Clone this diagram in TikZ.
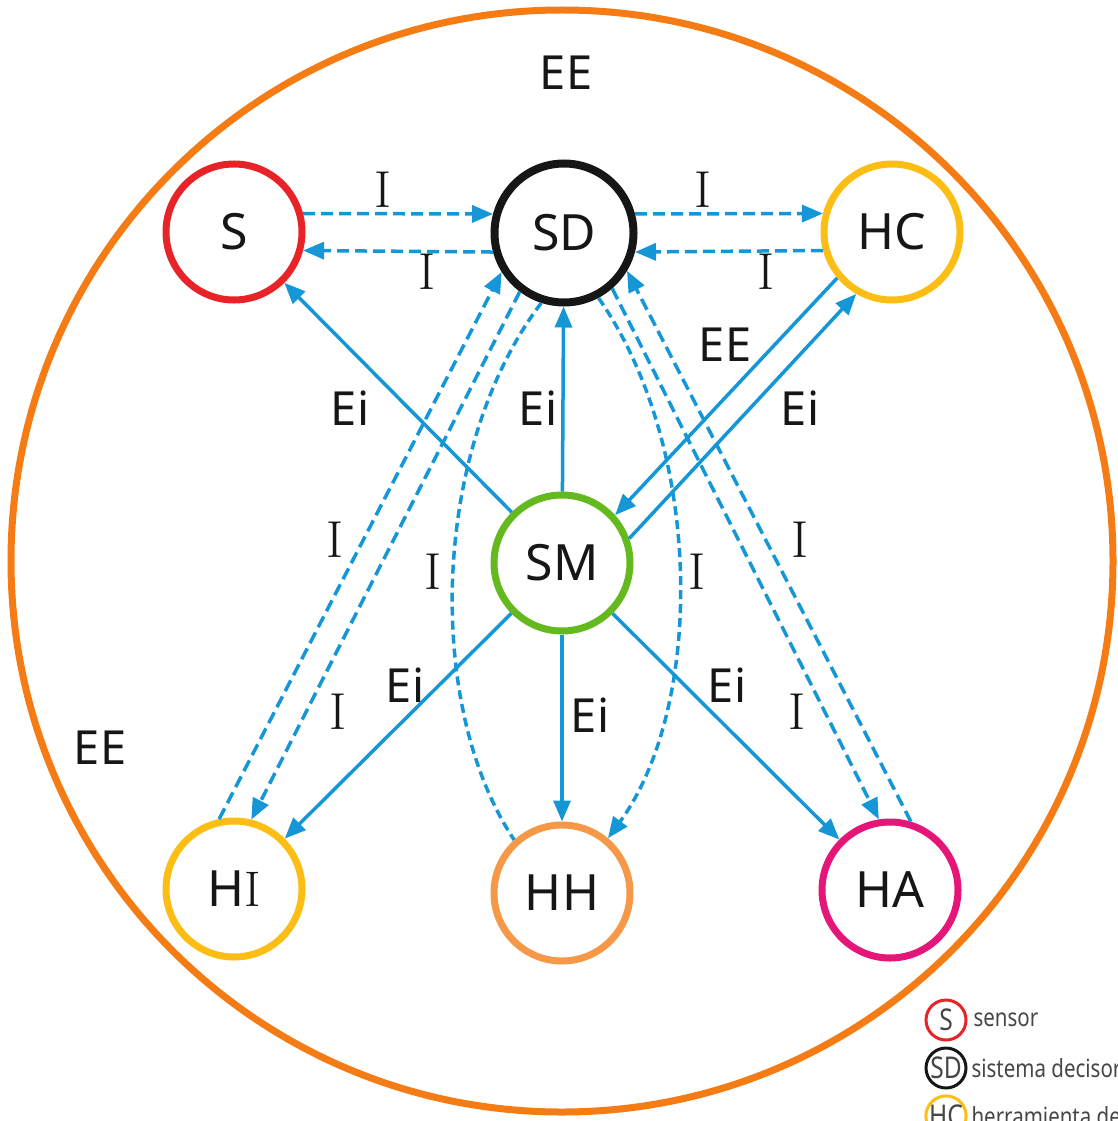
\documentclass[tikz,border=0pt]{standalone}
\usepackage{fontspec}
\newfontfamily\labelfont{Noto Sans}
\newfontfamily\legendfont{Noto Sans}[FakeStretch=0.82]
\usetikzlibrary{arrows.meta}

\definecolor{ringorange}{RGB}{245,124,20}
\definecolor{sred}{RGB}{232,35,40}
\definecolor{sdblack}{RGB}{22,22,22}
\definecolor{toolyellow}{RGB}{252,190,20}
\definecolor{smgreen}{RGB}{100,185,30}
\definecolor{hhorange}{RGB}{245,152,72}
\definecolor{hamagenta}{RGB}{230,22,120}
\definecolor{flowblue}{RGB}{20,150,215}
\definecolor{legendgrey}{RGB}{70,70,70}

\begin{document}
\begin{tikzpicture}[x=1pt,y=-1pt,
  unit/.style={circle, draw, line width=7pt, minimum size=136pt, inner sep=0pt,
    font=\labelfont\fontsize{50}{56}\selectfont, text=sdblack},
  flow/.style={draw=flowblue, line width=3.5pt, -{Triangle[length=21pt,width=17pt]}},
  info/.style={flow, dash pattern=on 12pt off 6pt},
  infocurve/.style={flow, dash pattern=on 9pt off 5pt},
  lbl/.style={font=\labelfont\fontsize{47}{52}\selectfont, text=sdblack},
  ilbl/.style={font=\fontsize{52}{58}\selectfont, text=sdblack},
  key/.style={circle, draw, line width=3pt, minimum size=40pt, inner sep=0pt,
    font=\legendfont\fontsize{30}{34}\selectfont, text=legendgrey},
  keytext/.style={anchor=west, font=\legendfont\fontsize{25}{30}\selectfont, text=legendgrey},
]
\useasboundingbox (0,0) rectangle (1117,1121);
\clip (0,0) rectangle (1117,1121);

% surrounding environment
\draw[ringorange, line width=7pt] (562,561) circle[radius=551];

% components
\node[unit, draw=sred]        (S)  at (234,232) {S};
\node[unit, draw=sdblack, line width=8pt, minimum size=139pt] (SD) at (564,233) {SD};
\node[unit, draw=toolyellow]  (HC) at (892,232) {HC};
\node[unit, draw=smgreen]     (SM) at (562,563) {SM};
\node[unit, draw=toolyellow]  (HI) at (234,889) {H{\rmfamily I}};
\node[unit, draw=hhorange]    (HH) at (562,893) {HH};
\node[unit, draw=hamagenta]   (HA) at (890,890) {HA};

% information links along the top row
\draw[info] (S.15)   -- (SD.165);
\draw[info] (SD.195) -- (S.345);
\draw[info] (SD.15)  -- (HC.165);
\draw[info] (HC.195) -- (SD.345);

% energy links from SM
\draw[flow] (SM) -- (S);
\draw[flow] (SM) -- (SD);
\draw[flow] (HC.220) -- (SM.42);
\draw[flow] (SM.20) -- (HC.240);
\draw[flow] (SM) -- (HI);
\draw[flow] (SM) -- (HH);
\draw[flow] (SM) -- (HA);

% information links down to the tools
\draw[info] (HI.102) -- (SD.212);
\draw[info] (SD.233) -- (HI.76);
\draw[infocurve, -] (SD.252) .. controls +(-110,145) and +(-90,-135) .. (HH.132);
\draw[infocurve] (SD.298) .. controls +(105,150) and +(97,-133) .. (HH.50);
\draw[info] (SD.311) -- (HA.99);
\draw[info] (HA.73) -- (SD.329);

% labels
\node[lbl] (eeTop)  at (566,73)  {EE};
\node[lbl] (eeLeft) at (100,748) {EE};
\node[ilbl] (i1) at (383,190) {I};
\node[ilbl] (i2) at (427,272) {I};
\node[ilbl] (i3) at (703,190) {I};
\node[ilbl] (i4) at (766,272) {I};
\node[lbl] (e1) at (350,408) {Ei};
\node[lbl] (e2) at (538,408) {Ei};
\node[lbl] (e3) at (725,345) {EE};
\node[lbl] (e4) at (800,408) {Ei};
\node[ilbl] (i5) at (335,540) {I};
\node[ilbl] (i6) at (433,572) {I};
\node[ilbl] (i7) at (697,572) {I};
\node[ilbl] (i8) at (800,540) {I};
\node[lbl] (e5) at (405,685) {Ei};
\node[lbl] (e6) at (590,715) {Ei};
\node[lbl] (e7) at (727,685) {Ei};
\node[ilbl] (i9)  at (338,712) {I};
\node[ilbl] (i10) at (797,712) {I};

% legend
\node[key, draw=sred]       (kS)  at (946,1020) {S};
\node[keytext] (kSt) at (970,1020) {sensor};
\node[key, draw=sdblack]    (kSD) at (946,1068) {SD};
\node[keytext] (kSDt) at (968,1068) {sistema decisor};
\node[key, draw=toolyellow] (kHC) at (946,1116) {HC};
\node[keytext] (kHCt) at (968,1116) {herramienta de control};
\end{tikzpicture}
\end{document}
